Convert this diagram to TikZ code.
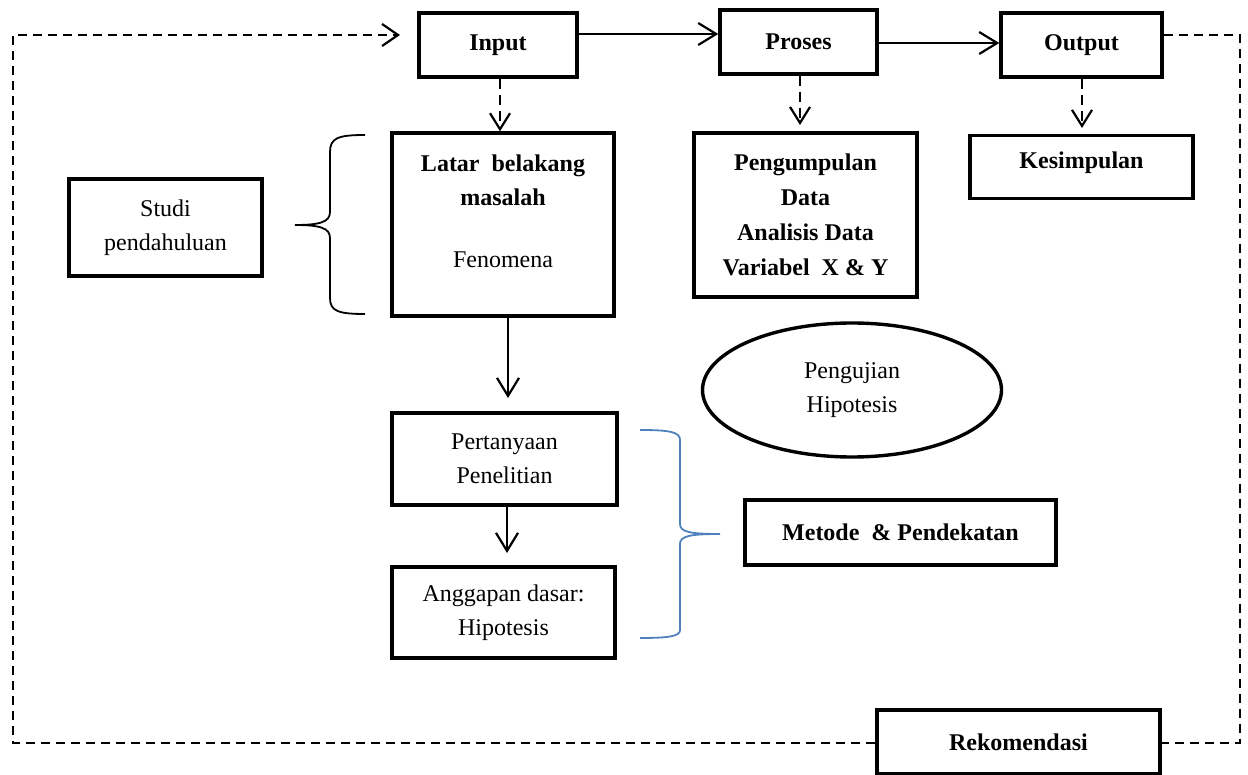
\documentclass[tikz,border=0pt]{standalone}
\usepackage{fontspec}
\setmainfont{Liberation Serif}
\usetikzlibrary{arrows.meta,shapes.geometric}
\definecolor{braceblue}{RGB}{79,129,189}
\begin{document}
\begin{tikzpicture}[x=0.5pt,y=-0.5pt,
  box/.style={draw,line width=1.7pt,inner sep=0pt,align=center,font=\fontsize{12}{17}\selectfont},
  bbox/.style={box,font=\fontsize{12}{17.5}\selectfont\bfseries},
  txt/.style={inner sep=0pt,align=center,font=\fontsize{12}{17}\selectfont},
  arr/.style={line width=1.1pt,-{Straight Barb[length=9pt,width=11pt,line width=1.1pt]}},
  darr/.style={line width=1.1pt,dash pattern=on 5pt off 3pt,-{Straight Barb[length=8pt,width=10pt,line width=1.1pt]}},
  loopline/.style={line width=0.9pt,dash pattern=on 4.5pt off 3pt},
  bluebrace/.style={draw=braceblue,line width=0.9pt}]
\useasboundingbox (0,0) rectangle (1248,775);
% top row
\node[bbox,minimum width=79pt,minimum height=32pt] (in) at (498,45) {Input};
\node[bbox,minimum width=78.5pt,minimum height=32pt] (pro) at (798.5,42) {Proses};
\node[bbox,minimum width=80.5pt,minimum height=32pt] (out) at (1081.5,45) {Output};
% second row
\node[box,minimum width=111pt,minimum height=91.5pt] (lat) at (503,224.5) {};
\node[txt,font=\fontsize{12}{17}\selectfont\bfseries] (latT) at (503,180) {Latar\ \ belakang\\masalah};
\node[txt] (fen) at (503,260) {Fenomena};
\node[bbox,minimum width=111.5pt,minimum height=82pt] (peng) at (805.5,215) {Pengumpulan\\Data\\Analisis Data\\Variabel\ \ X \& Y};
\node[bbox,minimum width=111.5pt,minimum height=31.5pt] (kes) at (1081.5,167) {};
\node[txt,font=\fontsize{12}{17}\selectfont\bfseries] (kesT) at (1081.5,163) {Kesimpulan};
\node[box,minimum width=96.5pt,minimum height=48.5pt] (stu) at (165.5,227.5) {Studi\\pendahuluan};
% lower
\node[box,minimum width=112.5pt,minimum height=46pt] (per) at (504.5,459) {Pertanyaan\\Penelitian};
\node[box,minimum width=111.5pt,minimum height=45.5pt] (ang) at (503.5,612.5) {Anggapan dasar:\\Hipotesis};
\node[ellipse,draw,line width=1.7pt,inner sep=0pt,minimum width=149.5pt,minimum height=67pt,align=center,font=\fontsize{12}{17}\selectfont] (ell) at (852,390) {Pengujian\\Hipotesis};
\node[bbox,minimum width=155.5pt,minimum height=32.5pt] (met) at (900.5,532.5) {Metode\ \ \& Pendekatan};
\node[bbox,minimum width=141.5pt,minimum height=32pt] (rek) at (1018.5,742) {Rekomendasi};
% helper coordinates
\coordinate (yA) at (0,34);
\coordinate (yB) at (0,43);
\coordinate (r1) at (1240,35);
\coordinate (r2) at (1240,743);
\coordinate (l1) at (13,743);
\coordinate (l2) at (13,35);
\coordinate (tipIn) at (400,35);
\coordinate (xIn) at (500,0);
\coordinate (xPro) at (800,0);
\coordinate (xOut) at (1082,0);
\coordinate (pTip) at (800,125);
\coordinate (oTip) at (1082,128);
\coordinate (xL) at (508,0);
\coordinate (xP) at (507,0);
\coordinate (lTip) at (508,398);
\coordinate (aTip) at (507,553);
% solid arrows
\draw[arr] (in.east |- yA) -- (pro.west |- yA);
\draw[arr] (pro.east |- yB) -- (out.west |- yB);
\draw[arr] (lat.south -| xL) -- (lTip);
\draw[arr] (per.south -| xP) -- (aTip);
% dashed arrows
\draw[darr] (in.south -| xIn) -- (lat.north -| xIn);
\draw[darr] (pro.south -| xPro) -- (pTip);
\draw[darr] (out.south -| xOut) -- (oTip);
% feedback loop
\draw[loopline] (out.east |- r1) -- (r1) -- (r2) -- (rek.east |- r2);
\draw[loopline,-{Straight Barb[length=8pt,width=11pt,line width=1.1pt]}] (rek.west |- l1) -- (l1) -- (l2) -- (tipIn);
% black brace
\draw[line width=0.9pt] (365,135) .. controls (338,135) and (330,138) .. (330,152)
  -- (330,212) .. controls (330,222) and (320,225) .. (295,225)
  .. controls (320,225) and (330,228) .. (330,238)
  -- (330,298) .. controls (330,311) and (338,314) .. (365,314);
% blue brace
\draw[bluebrace] (640,430) .. controls (670,430) and (680,432) .. (680,440)
  -- (680,524) .. controls (680,532) and (690,534) .. (720,534)
  .. controls (690,534) and (680,536) .. (680,544)
  -- (680,630) .. controls (680,636) and (670,638) .. (640,638);
\end{tikzpicture}
\end{document}
